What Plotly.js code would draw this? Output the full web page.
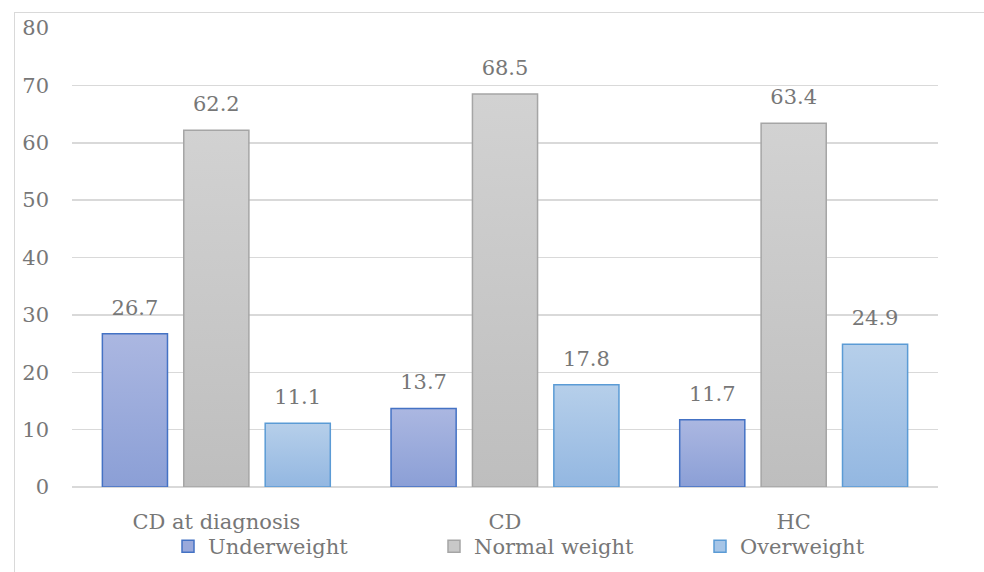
<!DOCTYPE html>
<html>
<head>
<meta charset="utf-8">
<script src="https://cdn.plot.ly/plotly-3.0.1.min.js"></script>
<style>
html,body{margin:0;padding:0;background:#fff;}
#frame{position:absolute;left:14px;top:12px;width:1000px;height:600px;border:1px solid #d9d9d9;box-sizing:border-box;}
#chart{position:absolute;left:0;top:0;width:984px;height:572px;}
</style>
</head>
<body>
<div id="frame"></div>
<div id="chart"></div>
<script>
const categories = ["CD at diagnosis", "CD", "HC"];
const underweight = [26.7, 13.7, 11.7];
const normalWeight = [62.2, 68.5, 63.4];
const overweight = [11.1, 17.8, 24.9];
const seriesNames = ["Underweight", "Normal weight", "Overweight"];
const yTicks = [0, 10, 20, 30, 40, 50, 60, 70, 80];

const FONT = "DejaVu Serif, Liberation Serif, serif";
const TXT = "#777777";
const fills = ["#9aa9db", "#c8c8c8", "#a6c5e7"];
const lines = ["#4472c4", "#a5a5a5", "#5b9bd5"];
const grads = [["#abb7e1", "#8b9fd6"], ["#d2d2d2", "#bebebe"], ["#b6cfea", "#93b7e1"]];

function mk(vals, i) {
  return {
    type: "bar",
    name: seriesNames[i],
    x: categories,
    y: vals,
    text: vals.map(v => v.toFixed(1)),
    textposition: "outside",
    cliponaxis: false,
    textfont: {family: FONT, size: 21, color: TXT},
    marker: {color: fills[i], line: {color: lines[i], width: 1.5}},
    hoverinfo: "x+y"
  };
}

const data = [mk(underweight, 0), mk(normalWeight, 1), mk(overweight, 2)];

const layout = {
  width: 984, height: 572,
  margin: {l: 72, r: 46, t: 28, b: 85, autoexpand: false},
  paper_bgcolor: "rgba(0,0,0,0)",
  plot_bgcolor: "rgba(0,0,0,0)",
  barmode: "group",
  bargap: 0.154,
  bargroupgap: 0.2,
  font: {family: FONT, size: 21, color: TXT},
  xaxis: {
    type: "category",
    showgrid: false, showline: false, zeroline: false,
    ticks: "", ticklabelstandoff: 20,
    tickfont: {family: FONT, size: 21, color: TXT}
  },
  yaxis: {
    range: [0, 80], tickvals: yTicks, ticktext: yTicks.map(String),
    showgrid: true, gridcolor: "#d9d9d9", gridwidth: 1.5,
    zeroline: true, zerolinecolor: "#d9d9d9", zerolinewidth: 1.5,
    showline: false, ticks: "", ticklabelstandoff: 22,
    tickfont: {family: FONT, size: 21, color: TXT}
  },
  legend: {
    orientation: "h", x: 0.5716, xanchor: "center", y: -0.085, yanchor: "top",
    font: {family: FONT, size: 21, color: TXT},
    entrywidth: 221, entrywidthmode: "pixels",
    itemclick: false, itemdoubleclick: false,
    bgcolor: "rgba(0,0,0,0)"
  },
  showlegend: true
};

function applyGradients(gd) {
  const svg = gd.querySelector("svg.main-svg");
  if (!svg) return;
  let defs = svg.querySelector("defs");
  if (!defs) { defs = document.createElementNS("http://www.w3.org/2000/svg", "defs"); svg.insertBefore(defs, svg.firstChild); }
  grads.forEach((g, i) => {
    if (!svg.querySelector("#bg" + i)) {
      const lg = document.createElementNS("http://www.w3.org/2000/svg", "linearGradient");
      lg.setAttribute("id", "bg" + i);
      lg.setAttribute("x1", "0"); lg.setAttribute("y1", "0");
      lg.setAttribute("x2", "0"); lg.setAttribute("y2", "1");
      [[0, g[0]], [1, g[1]]].forEach(s => {
        const st = document.createElementNS("http://www.w3.org/2000/svg", "stop");
        st.setAttribute("offset", s[0]); st.setAttribute("stop-color", s[1]);
        lg.appendChild(st);
      });
      defs.appendChild(lg);
    }
  });
  gd.querySelectorAll(".barlayer .trace.bars").forEach((tr, i) => {
    tr.querySelectorAll(".point path").forEach(p => { p.style.fill = "url(#bg" + i + ")"; });
    tr.querySelectorAll(".point text").forEach(t => {
      if (!t.dataset.lifted) {
        t.setAttribute("transform", "translate(0,-11) " + (t.getAttribute("transform") || ""));
        t.dataset.lifted = "1";
      }
    });
  });
}

Plotly.newPlot("chart", data, layout, {displayModeBar: false, staticPlot: true}).then(gd => {
  applyGradients(gd);
  gd.on("plotly_afterplot", () => applyGradients(gd));
});
</script>
</body>
</html>
